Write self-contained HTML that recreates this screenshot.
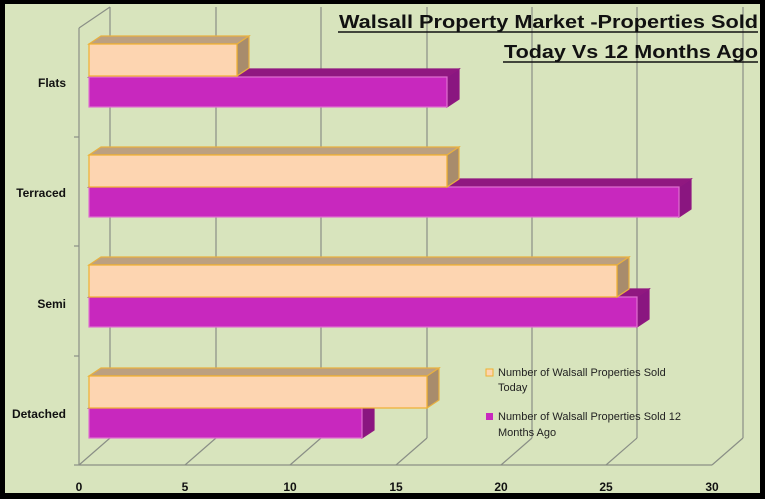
<!DOCTYPE html>
<html><head><meta charset="utf-8"><style>
html,body{margin:0;padding:0;background:#000;}
svg{display:block;font-family:"Liberation Sans",sans-serif;}
</style></head><body>
<svg width="765" height="499" viewBox="0 0 765 499">
<rect x="0" y="0" width="765" height="499" fill="#000"/>
<rect x="5" y="4" width="755" height="489" fill="#d8e4bd"/>
<g stroke="#8a8f86" stroke-width="1.2" fill="none">
<line x1="79" y1="28" x2="79" y2="465"/><line x1="79" y1="28" x2="110" y2="7"/>
<line x1="74" y1="137" x2="79" y2="137"/><line x1="74" y1="246" x2="79" y2="246"/><line x1="74" y1="356" x2="79" y2="356"/><line x1="74" y1="465" x2="79" y2="465"/>
<line x1="79" y1="465" x2="712" y2="465"/>
<line x1="110" y1="7" x2="110" y2="438"/><line x1="79" y1="465" x2="110" y2="438"/>
<line x1="216" y1="7" x2="216" y2="438"/><line x1="185" y1="465" x2="216" y2="438"/>
<line x1="321" y1="7" x2="321" y2="438"/><line x1="290" y1="465" x2="321" y2="438"/>
<line x1="427" y1="7" x2="427" y2="438"/><line x1="396" y1="465" x2="427" y2="438"/>
<line x1="532" y1="7" x2="532" y2="438"/><line x1="501" y1="465" x2="532" y2="438"/>
<line x1="637" y1="7" x2="637" y2="438"/><line x1="606" y1="465" x2="637" y2="438"/>
<line x1="743" y1="7" x2="743" y2="438"/><line x1="712" y1="465" x2="743" y2="438"/>
</g>
<g stroke-width="1.2">
<polygon points="89,77 101,69 459,69 447,77" fill="#901880" stroke="#901880"/>
<polygon points="447,77 459,69 459,99 447,107" fill="#8a1680" stroke="#901880"/>
<rect x="89" y="77" width="358" height="30" fill="#c828be" stroke="#e070d0"/>
<polygon points="89,44 101,36 249,36 237,44" fill="#bca080" stroke="#e8b040"/>
<polygon points="237,44 249,36 249,68 237,76" fill="#a88c6c" stroke="#e8b040"/>
<rect x="89" y="44" width="148" height="32" fill="#fdd5b1" stroke="#f0b030"/>
<polygon points="89,187 101,179 691,179 679,187" fill="#901880" stroke="#901880"/>
<polygon points="679,187 691,179 691,209 679,217" fill="#8a1680" stroke="#901880"/>
<rect x="89" y="187" width="590" height="30" fill="#c828be" stroke="#e070d0"/>
<polygon points="89,155 101,147 459,147 447,155" fill="#bca080" stroke="#e8b040"/>
<polygon points="447,155 459,147 459,179 447,187" fill="#a88c6c" stroke="#e8b040"/>
<rect x="89" y="155" width="358" height="32" fill="#fdd5b1" stroke="#f0b030"/>
<polygon points="89,297 101,289 649,289 637,297" fill="#901880" stroke="#901880"/>
<polygon points="637,297 649,289 649,319 637,327" fill="#8a1680" stroke="#901880"/>
<rect x="89" y="297" width="548" height="30" fill="#c828be" stroke="#e070d0"/>
<polygon points="89,265 101,257 629,257 617,265" fill="#bca080" stroke="#e8b040"/>
<polygon points="617,265 629,257 629,289 617,297" fill="#a88c6c" stroke="#e8b040"/>
<rect x="89" y="265" width="528" height="32" fill="#fdd5b1" stroke="#f0b030"/>
<polygon points="89,408 101,400 374,400 362,408" fill="#901880" stroke="#901880"/>
<polygon points="362,408 374,400 374,430 362,438" fill="#8a1680" stroke="#901880"/>
<rect x="89" y="408" width="273" height="30" fill="#c828be" stroke="#e070d0"/>
<polygon points="89,376 101,368 439,368 427,376" fill="#bca080" stroke="#e8b040"/>
<polygon points="427,376 439,368 439,400 427,408" fill="#a88c6c" stroke="#e8b040"/>
<rect x="89" y="376" width="338" height="32" fill="#fdd5b1" stroke="#f0b030"/>
</g>
<g font-size="12" font-weight="bold" fill="#111" text-anchor="end">
<text x="66" y="87">Flats</text>
<text x="66" y="197">Terraced</text>
<text x="66" y="308">Semi</text>
<text x="66" y="418">Detached</text>
</g>
<g font-size="12" font-weight="bold" fill="#111" text-anchor="middle">
<text x="79" y="491">0</text><text x="185" y="491">5</text><text x="290" y="491">10</text>
<text x="396" y="491">15</text><text x="501" y="491">20</text><text x="606" y="491">25</text><text x="712" y="491">30</text>
</g>
<g font-size="18" font-weight="bold" fill="#111">
<text x="339" y="28" textLength="419" lengthAdjust="spacingAndGlyphs">Walsall Property Market -Properties Sold</text>
<text x="504" y="58" textLength="254" lengthAdjust="spacingAndGlyphs">Today Vs 12 Months Ago</text>
</g>
<line x1="338" y1="32" x2="758" y2="32" stroke="#111" stroke-width="1.5"/>
<line x1="503" y1="62" x2="758" y2="62" stroke="#111" stroke-width="1.5"/>
<rect x="486" y="369" width="7" height="7" fill="#fdd5b1" stroke="#f0b030"/>
<rect x="486" y="413" width="7" height="7" fill="#c828be"/>
<g font-size="11" fill="#222">
<text x="498" y="376">Number of Walsall Properties Sold</text>
<text x="498" y="391">Today</text>
<text x="498" y="420">Number of Walsall Properties Sold  12</text>
<text x="498" y="436">Months Ago</text>
</g>
</svg>
</body></html>
